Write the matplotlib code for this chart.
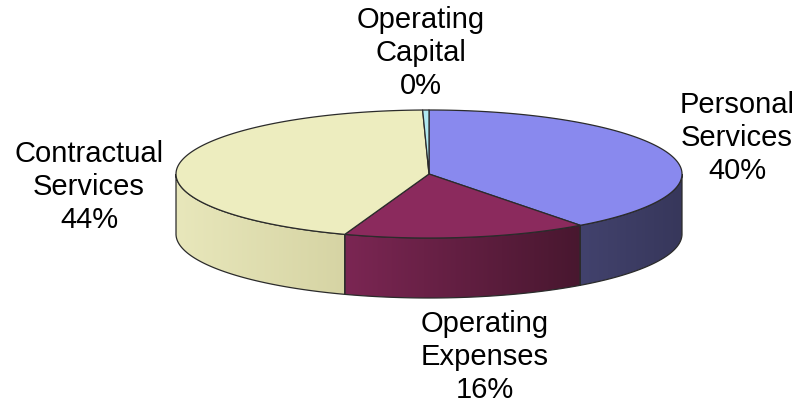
import numpy as np
import matplotlib.pyplot as plt
from matplotlib.patches import Polygon

# budget shares, clockwise from 12 o'clock
labels = ['Personal\nServices', 'Operating\nExpenses', 'Contractual\nServices', 'Operating\nCapital']
values = [39.8, 15.6, 44.2, 0.4]
label_pos = [(737, 138), (485, 357), (89, 187), (421, 53)]

top_colors = ['#8989ee', '#8b2a5d', '#ededbf', '#b0e8f0']
side_left = ['#42426d', '#7b2653', '#e8e7bb', '#9ad0d8']
side_right = ['#37375b', '#48172f', '#d6d4a4', '#80b0b8']

cx, cy = 429, 174
rx, ry = 253, 64
depth = 60
edge = '#2b2b2b'

plt.rcParams['font.family'] = ['Liberation Sans', 'DejaVu Sans']

fig = plt.figure(figsize=(8.02, 4.05), dpi=100)
ax = fig.add_axes([0, 0, 1, 1])


def ell(t, dy=0.0):
    return cx + rx * np.cos(t), cy - ry * np.sin(t) + dy


def blend(c1, c2, n):
    a = np.array(plt.matplotlib.colors.to_rgb(c1))
    b = np.array(plt.matplotlib.colors.to_rgb(c2))
    w = np.linspace(0, 1, n)[:, None]
    return a * (1 - w) + b * w


fracs = np.array(values) / sum(values)
bounds = np.pi / 2 - 2 * np.pi * np.concatenate([[0], np.cumsum(fracs)])

# side walls (only the front half of the rim shows)
for i in range(len(values)):
    start, end = bounds[i], bounds[i + 1]
    hi, lo = min(start, 0), max(end, -np.pi)
    if hi <= lo:
        continue
    t = np.linspace(hi, lo, 200)
    xt, yt = ell(t)
    xb, yb = ell(t[::-1], depth)
    pts = np.column_stack([np.concatenate([xt, xb]), np.concatenate([yt, yb])])
    wall = Polygon(pts, closed=True, facecolor='none', edgecolor=edge, lw=0.9, zorder=3)
    ax.add_patch(wall)
    x0, x1 = pts[:, 0].min(), pts[:, 0].max()
    y0, y1 = pts[:, 1].min(), pts[:, 1].max()
    grad = blend(side_left[i], side_right[i], 256)[None, :, :]
    im = ax.imshow(grad, extent=(x0, x1, y1, y0), aspect='auto', zorder=2,
                   interpolation='bilinear')
    im.set_clip_path(wall)

# top faces
for i in range(len(values)):
    t = np.linspace(bounds[i], bounds[i + 1], max(int(abs(bounds[i] - bounds[i + 1]) * 80), 4))
    xs, ys = ell(t)
    pts = np.column_stack([np.concatenate([[cx], xs]), np.concatenate([[cy], ys])])
    ax.add_patch(Polygon(pts, closed=True, facecolor=top_colors[i], edgecolor=edge,
                         lw=0.9, joinstyle='round', zorder=4))

for lab, v, (lx, ly) in zip(labels, values, label_pos):
    ax.text(lx, ly, f'{lab}\n{v:.0f}%', ha='center', va='center', fontsize=21,
            linespacing=1.24, color='black', zorder=5)

ax.set_xlim(0, 802)
ax.set_ylim(405, 0)
ax.axis('off')

fig.savefig('out.png', dpi=100)
